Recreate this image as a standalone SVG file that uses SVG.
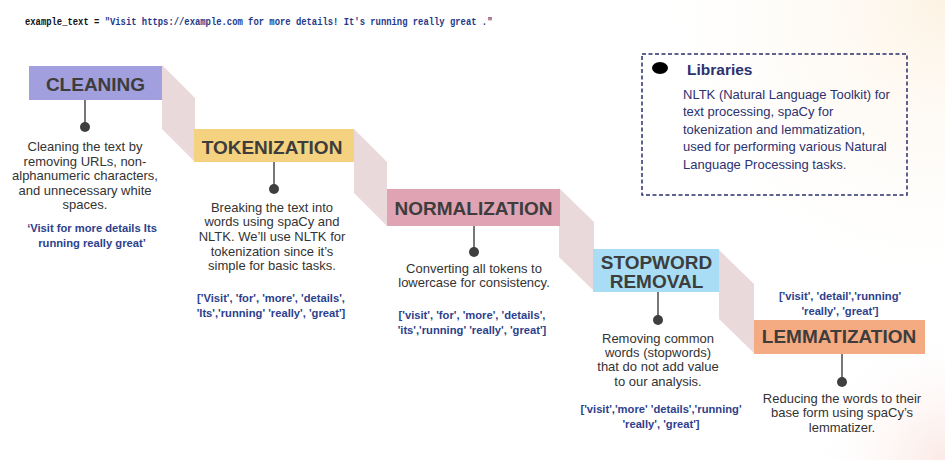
<svg xmlns="http://www.w3.org/2000/svg" width="945" height="460" viewBox="0 0 945 460">
<defs>
<radialGradient id="tr" cx="945" cy="0" r="320" gradientUnits="userSpaceOnUse">
<stop offset="0" stop-color="#fdf3e4"/><stop offset="1" stop-color="#ffffff" stop-opacity="0"/>
</radialGradient>
<radialGradient id="br" cx="945" cy="460" r="140" gradientUnits="userSpaceOnUse">
<stop offset="0" stop-color="#fbe9e4"/><stop offset="1" stop-color="#ffffff" stop-opacity="0"/>
</radialGradient>
<style>
.title{font-family:"Liberation Sans",Arial,sans-serif;font-weight:bold;font-size:19px;fill:#3d3d3d;text-anchor:middle}
.desc{font-family:"Liberation Sans",Arial,sans-serif;font-size:13px;fill:#333333;text-anchor:middle}
.list{font-family:"Liberation Sans",Arial,sans-serif;font-weight:bold;font-size:11.2px;fill:#2d3f8c;text-anchor:middle}
.ribbon{fill:#ead9da}
.stem{stroke:#4a4a4a;stroke-width:1.5}
.dot{fill:#3f3f3f}
.lib{font-family:"Liberation Sans",Arial,sans-serif;font-size:13px;fill:#2c3170}
.libtitle{font-family:"Liberation Sans",Arial,sans-serif;font-size:15.5px;font-weight:bold;fill:#2c3170}
.code{font-family:"Liberation Mono","Courier New",monospace;font-weight:bold;font-size:8.87px}
</style>
</defs>
<rect width="945" height="460" fill="#ffffff"/>
<rect width="945" height="460" fill="url(#tr)"/>
<rect width="945" height="460" fill="url(#br)"/>

<text class="code" transform="translate(25,25) scale(1,1.3)" x="0" y="0"><tspan fill="#111111">example_text = </tspan><tspan fill="#1f3a8a">"Visit https://example.com for more details! It's running really great ."</tspan></text>

<g id="connectors">
<polygon class="ribbon" points="162,65 195,98 195,162 162,129"/>
<polygon class="ribbon" points="354,129 387,162 387,226 354,193"/>
<polygon class="ribbon" points="559,188 594,222 594,291 559,257"/>
<polygon class="ribbon" points="719,250 754,284 754,353 719,319"/>
<line class="stem" x1="85" y1="100" x2="85" y2="127"/>
<line class="stem" x1="274" y1="162" x2="274" y2="189"/>
<line class="stem" x1="474" y1="226" x2="474" y2="252"/>
<line class="stem" x1="658" y1="292" x2="658" y2="320"/>
<line class="stem" x1="842" y1="354" x2="842" y2="382"/>
<circle class="dot" cx="85" cy="127" r="5"/>
<circle class="dot" cx="274" cy="189" r="5"/>
<circle class="dot" cx="474" cy="252" r="5"/>
<circle class="dot" cx="658" cy="320" r="5"/>
<circle class="dot" cx="842" cy="382" r="5"/>
</g>

<g id="cleaning">
<rect x="29" y="66" width="133" height="34" fill="#a29fde"/>
<text class="title" x="95.5" y="91">CLEANING</text>
<text class="desc" x="85" y="151">Cleaning the text by</text>
<text class="desc" x="85" y="165.5">removing URLs, non-</text>
<text class="desc" x="85" y="180">alphanumeric characters,</text>
<text class="desc" x="85" y="194.5">and unnecessary white</text>
<text class="desc" x="85" y="209">spaces.</text>
<text class="list" x="92" y="232">‘Visit for more details Its</text>
<text class="list" x="92" y="247">running really great’</text>
</g>

<g id="tokenization">
<rect x="194" y="129" width="160" height="33" fill="#f5d27f"/>
<text class="title" x="272" y="154">TOKENIZATION</text>
<text class="desc" x="272" y="211.5">Breaking the text into</text>
<text class="desc" x="272" y="226">words using spaCy and</text>
<text class="desc" x="272" y="241">NLTK. We’ll use NLTK for</text>
<text class="desc" x="272" y="255.5">tokenization since it’s</text>
<text class="desc" x="272" y="270">simple for basic tasks.</text>
<text class="list" x="271" y="302">['Visit', 'for', 'more', 'details',</text>
<text class="list" x="271" y="317">'Its','running' 'really', 'great']</text>
</g>

<g id="normalization">
<rect x="387" y="189" width="173" height="37" fill="#dfa3b4"/>
<text class="title" x="473.5" y="215">NORMALIZATION</text>
<text class="desc" x="474" y="272.5">Converting all tokens to</text>
<text class="desc" x="474" y="287">lowercase for consistency.</text>
<text class="list" x="472" y="319">['visit', 'for', 'more', 'details',</text>
<text class="list" x="472" y="333.5">'its','running' 'really', 'great']</text>
</g>

<g id="stopword-removal">
<rect x="593" y="249" width="126" height="43" fill="#a8ddf5"/>
<text class="title" x="656.5" y="269">STOPWORD</text>
<text class="title" x="656.5" y="288">REMOVAL</text>
<text class="desc" x="658" y="342.5">Removing common</text>
<text class="desc" x="658" y="356.5">words (stopwords)</text>
<text class="desc" x="658" y="371">that do not add value</text>
<text class="desc" x="658" y="386">to our analysis.</text>
<text class="list" x="661" y="413">['visit','more' 'details','running'</text>
<text class="list" x="661" y="428">'really', 'great']</text>
</g>

<g id="lemmatization">
<rect x="754" y="320" width="171" height="34" fill="#f5ab82"/>
<text class="title" x="839" y="343">LEMMATIZATION</text>
<text class="list" x="840" y="300">['visit', 'detail','running'</text>
<text class="list" x="840" y="315">'really', 'great']</text>
<text class="desc" x="842" y="402.5">Reducing the words to their</text>
<text class="desc" x="842" y="417">base form using spaCy’s</text>
<text class="desc" x="842" y="432">lemmatizer.</text>
</g>

<g id="libraries">
<rect x="642" y="54" width="265" height="141" fill="none" stroke="#2a2f6e" stroke-width="1.5" stroke-dasharray="4,2.5"/>
<ellipse cx="660" cy="68" rx="8" ry="6" fill="#000000"/>
<text class="libtitle" x="687" y="75">Libraries</text>
<text class="lib" x="683" y="98.5">NLTK (Natural Language Toolkit) for</text>
<text class="lib" x="683" y="116">text processing, spaCy for</text>
<text class="lib" x="683" y="133.5">tokenization and lemmatization,</text>
<text class="lib" x="683" y="151">used for performing various Natural</text>
<text class="lib" x="683" y="168.5">Language Processing tasks.</text>
</g>
</svg>
